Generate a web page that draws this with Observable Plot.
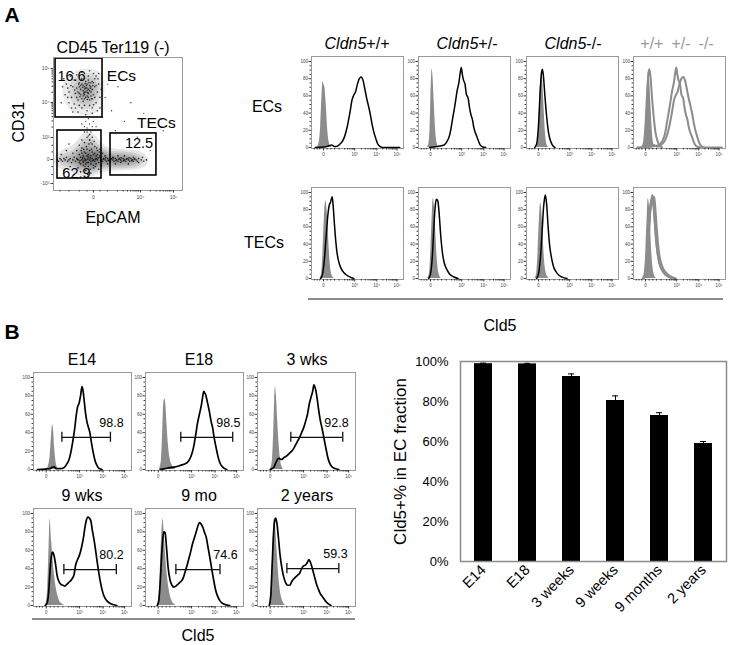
<!DOCTYPE html>
<html><head><meta charset="utf-8">
<script src="https://cdn.jsdelivr.net/npm/d3@7"></script>
<script src="https://cdn.jsdelivr.net/npm/@observablehq/plot@0.6"></script>
<style>
body{margin:0;background:#fff;font-family:"Liberation Sans",Arial,sans-serif;}
#fig{position:relative;width:730px;height:645px;overflow:hidden;background:#fff}
.t{position:absolute;white-space:nowrap;transform:translate(-50%,-50%);line-height:1;color:#000}
.p{position:absolute}
.p svg{display:block;max-width:none !important}
.hr{position:absolute;background:#8c8c8c;height:2px}
</style></head><body><div id="fig"></div>
<script>
// ---------- DATA ----------
// Flow-cytometry axis (display units 0-100 across the frame)
const histXTicks = [13, 47, 71, 93];
const histXLabels = ["0", "10³", "10⁴", "10⁵"];
const histXMinor = [3, 6, 9, 17, 21, 25, 30, 36, 39, 41, 43, 44.5, 45.5, 54.2, 58.4, 61.4, 63.8, 65.7, 67.3, 68.7, 69.9, 77.6, 81.5, 84.2, 86.4, 88.1, 89.6, 90.9, 92];
const histYTicks = [0, 20, 40, 60, 80, 100];
const histYMinor = [5, 10, 15, 25, 30, 35, 45, 50, 55, 65, 70, 75, 85, 90, 95];

// Dot plot axes
const dotXTicks = [31, 67.4, 93];
const dotXLabels = ["0", "10⁴", "10⁵"];
const dotYTicks = [5.3, 23.3, 39.8, 66.2, 91.7];
const dotYLabels = ["-10³", "0", "10³", "10⁴", "10⁵"];
const dotXMinor = [5, 12, 20, 26, 36, 41.8, 49.5, 54, 57.3, 59.8, 61.7, 63.3, 64.7, 65.9, 75, 79.5, 82.6, 85, 87, 88.6, 90, 91.2];
const dotYMinor = [12, 18, 29, 34, 47.7, 52.3, 55.5, 58, 60, 61.6, 63, 64.2, 65.2, 73.9, 78.4, 81.6, 84, 86, 87.7, 89.1, 90.4];

// Gates on the CD31 / EpCAM plot
const gates = [
  {name: "ECs", pct: "16.6", x1: 1.6, x2: 38, y1: 54.9, y2: 99.2},
  {name: "DN", pct: "62.9", x1: 3.1, x2: 37.2, y1: 9.0, y2: 45.1},
  {name: "TECs", pct: "12.5", x1: 44.2, x2: 79.8, y1: 11.3, y2: 42.9}
];

// Events (EpCAM, CD31) in display units
const ecEvents = [[18,70],[19,74],[20,78],[21,72],[22,80],[23,75],[24,69],[25,82],[26,77],[27,73],[28,79],[29,71],[30,76],[31,81],[22,84],[24,78],[26,71],[28,68],[20,81],[23,67],[25,74],[27,83],[29,78],[31,72],[19,68],[21,76],[23,79],[25,70],[27,76],[29,74],[30,69],[32,78],[18,77],[20,73],[22,69],[24,74],[26,80],[28,75],[30,82],[21,79],[23,71],[25,77],[27,70],[29,81],[24,72],[26,75],[22.5,77.5],[24.5,80.5],[26.5,73.5],[28.5,77],[20.5,70.5],[25.5,79],[27.5,81],[23.5,73],[21.5,83],[19.5,80],[29.5,69],[30.5,79],[26.2,68.4],[24.2,76.3],
  [10,80],[12,74],[13,86],[14,70],[15,78],[16,65],[15,88],[17,62],[12,66],[9,72],[33,66],[34,74],[35,80],[36,70],[33,86],[31,88],[28,90],[22,89],[18,87],[36,62],[34,60],[30,62],[26,60],[22,62],[20,64],[16,83],[32,84],[35,88],[8,84],[11,77],[14,62],[37,76],[28,64],[24,64],[19,59],[30,58],[25,57],[32,70],[17,73],[33,79],[16.5,75.5],[13.5,79],[34.5,84],[11,70],[7,78],[6,66],[15,59],[31,64.5],[27,86],[24,88]];
const trailEvents = [[27,54],[28,50],[26,47],[29,44],[27,41],[28,38],[25,52],[30,48],[26,44],[29,36],[31,52],[24,48],[40,70],[45,60],[50,78],[55,52],[60,66],[48,45],[70,58],[42,80],[33,48],[22,50],[38,55],[65,40],[75,30],[85,45]];
const dnEvents = [[3,23],[4,22],[5,24],[6,23],[7,22],[8,24],[9,23],[10,25],[11,22],[12,23],[13,24],[14,21],[15,23],[16,25],[17,22],[18,24],[19,23],[20,21],[21,25],[22,23],[23,22],[24,24],[25,23],[26,21],[27,25],[28,23],[29,22],[30,24],[31,23],[32,22],[33,24],[34,23],[35,21],[36,25],[37,23],[38,22],[39,24],[40,23],[41,22],[42,24],[43,23],[44,22],[45,24],[46,23],[47,22],[48,24],[49,23],[50,22],[51,24],[52,23],[53,22],[54,24],[55,23],[56,22],[57,24],[58,23],[59,22],[60,24],[61,23],[62,22],[63,24],[64,23],[65,22],[66,24],[68,23],[70,22],[72,23],
  [18.5,23.5],[20.5,22.5],[22.5,24.5],[24.5,22.5],[26.5,23.5],[28.5,24.5],[30.5,22.5],[32.5,23.5],[34.5,24.5],[36.5,22.5],[38.5,23.5],[40.5,24.5],[42.5,22.5],[44.5,23.5],[46.5,24.5],[48.5,22.5],[50.5,23.5],[52.5,24.5],[54.5,22.5],[56.5,23.5],[58.5,24.5],[60.5,22.5],[62.5,23.5],
  [18,30],[20,34],[22,28],[24,36],[26,31],[28,38],[30,29],[32,33],[34,27],[36,31],[19,17],[21,14],[23,19],[25,15],[27,18],[29,13],[31,17],[33,20],[35,16],[37,19],[20,27],[22,32],[24,29],[26,26],[28,30],[30,35],[32,28],[34,30],[36,26],[23,26],[25,28],[27,27],[29,26],[31,27],[33,26],[21,20],[23,21],[25,20],[27,21],[29,20],[31,19],[26,40],[28,42],[24,44],[30,40],[22,38],[15,28],[13,18],[10,30],[8,15],[12,35],[6,27],[16,12],[38,28],[40,26],[42,20],[44,27],[46,25],[48,20],[50,26],[52,21],[55,26],[58,20],[62,25],[66,21],[69,25],[25.5,33],[27.5,35],[29.5,31],[31.5,37],[23.5,31],[21.5,30],[33.5,32],[35.5,29],[24.5,18],[28.5,16],[32.5,18],[26.5,12]];

// Panel A histograms: [Cld5 display value, % of max]
const ecIso_WT = [[6,0],[8,4],[10,25],[11.5,62],[12.5,77],[13.5,73],[14.5,70],[16,50],[17.5,22],[19,7],[21,1],[23,0]];
const ec_WT = [[4,0],[14,0.5],[19,2],[22,3],[25,1],[28,1.5],[31,4],[35,10],[39,25],[42,42],[44,55],[46,61],[48,65],[50,74],[52,80],[54,82],[56,78],[58,68],[60,57],[62,48],[64,38],[66,26],[68,17],[70,10],[72,4],[74,1.5],[77,0],[96,0]];
const ecIso_Het = [[9,0],[11,3],[12.5,20],[13.5,60],[14.8,91],[15.8,82],[17,55],[18.5,22],[20,6],[22,0]];
const ec_Het = [[12,0],[20,1],[25,2],[28,3],[31,7],[34,15],[37,33],[40,52],[42,66],[44,76],[45.5,88],[46.5,93],[47.5,86],[49,78],[50.5,74],[52,62],[54,57],[55.5,46],[57,38],[58.5,33],[60,24],[61.5,18],[63,14],[65,8],[67,3],[70,0.5],[73,0]];
const ecIso_KO = [[11,0],[12.5,8],[14,40],[15.5,80],[16.5,88],[17.5,80],[19,48],[20.5,18],[22,4],[24,0]];
const ec_KO = [[9,0],[11,4],[13,25],[15,68],[16.5,88],[17.3,91],[18.5,82],[20,60],[22,35],[24,17],[26,8],[28,3],[31,0]];
const tecIso_WT = [[9,0],[11,5],[12.5,30],[14,70],[15.5,90],[16.5,85],[18,60],[19.5,30],[21,10],[23,2],[25,0]];
const tec_WT = [[10,0],[12,5],[14,22],[16,50],[18,76],[19.5,86],[20.5,88],[21.5,92],[22.5,95],[23.5,85],[25,62],[26.5,42],[28,28],[30,18],[32,12],[35,7],[38,4],[42,1.5],[46,0]];
const tecIso_Het = [[10,0],[12,6],[13.5,35],[15,75],[16,93],[17,88],[18.5,60],[20,28],[21.5,10],[23,3],[25,0]];
const tec_Het = [[11,0],[13,5],[15,25],[16.5,55],[18,82],[19.5,92],[21,90],[22.5,75],[24,52],[26,30],[28,18],[31,10],[34,5],[38,2],[43,0]];
const tecIso_KO = [[9,0],[11,5],[12.5,30],[14,68],[15.3,88],[16.5,80],[18,52],[19.5,22],[21,8],[23,2],[25,0]];
const tec_KO = [[11,0],[13,5],[15,22],[17,55],[18.5,82],[19.5,92],[20.6,97],[22,85],[23.5,60],[25,40],[27,25],[29,15],[32,8],[35,4],[39,1.5],[44,0]];

// Panel B histograms by age
const ages = ["E14", "E18", "3 wks", "9 wks", "9 mo", "2 years"];
const gatePct = ["98.8", "98.5", "92.8", "80.2", "74.6", "59.3"];
const gateFrom = [29, 36, 34, 31, 31, 30];
const gateTo = [78.5, 89, 87, 84.5, 76, 83];
const gateLevel = [35, 35, 35, 39, 39, 40];
const isoE14 = [[13,0],[15,3],[17,15],[18.5,38],[19.5,48.5],[20.5,42],[21.5,25],[23,8],[24.5,2],[26,0]];
const cldE14 = [[4,0],[12,0.5],[17,1],[19,2.5],[21,3],[23,1],[27,1],[31,2],[34,6],[36,10],[38,18],[40,30],[42,44],[43.5,58],[45,68],[46.5,72],[48,80],[49.5,90],[50.5,86],[52,72],[53,62],[54.5,52],[56,46],[57.5,40],[59,30],[61,18],[63,9],[65,4],[67,1],[70,0]];
const isoE18 = [[14,0],[16,8],[17.5,40],[18.5,70],[19.6,77],[20.8,70],[22,48],[23.5,25],[25,12],[27,5],[29,2],[31,0]];
const cldE18 = [[15,0],[20,1],[25,2],[29,2.5],[33,3.5],[37,5],[40,6],[43,8],[45,11],[47,16],[49,24],[51,36],[53,50],[55,60],[57,70],[58.5,80],[59.5,85],[60.5,83],[61.5,81],[63,74],[65,64],[67,52],[68.6,45],[70,35],[72,24],[74,14],[76,7],[78,3.5],[80,1.5],[83,0]];
const iso3w = [[13,0],[15,8],[16.5,40],[17.5,75],[18.3,90],[19.3,80],[20.5,55],[22,28],[23.5,10],[25,3],[27,0]];
const cld3w = [[13,0],[15,1],[17,3],[19,8],[20.5,11],[22,12.5],[23.5,11],[25,11],[27,13],[29,14],[31,16],[33,18],[35,20],[37,23],[39,27],[41,31],[43,35],[45,40],[47,45],[49,52],[51,60],[53,72],[55,80],[56.5,86],[57.5,92],[58.5,90],[59.5,86],[61,76],[62.5,64],[64,54],[66,44],[68,33],[70,22],[72,12],[74,6],[76,3],[79,1],[83,0]];
const iso9w = [[12,0],[14,10],[15.5,50],[17,94],[18.5,70],[20,48],[21.5,32],[23,20],[25,10],[27,4],[30,1],[32,0]];
const cld9w = [[12,0],[14,3],[15.5,15],[17,40],[18.5,55],[19.6,58],[21,54],[22.5,45],[24,33],[26,26],[28,23],[30,22],[32,21],[34,23],[36,25],[38,27],[40,30],[41.5,34],[43,44],[45,50],[47,55],[49,63],[51,74],[52.5,85],[54,93],[55.5,96],[57,95],[58.5,92],[60,82],[62,70],[64,55],[66,40],[68,27],[70,17],[72,10],[75,5],[78,2.5],[81,1],[85,0]];
const iso9m = [[12,0],[14,10],[15.5,50],[17,85],[18,94],[19,80],[20.5,55],[22,35],[24,18],[26,8],[28,3],[31,0]];
const cld9m = [[12,0],[13.5,5],[15,25],[16.5,55],[18,76],[18.8,80],[20,79],[21.5,62],[23,42],[25,28],[27,22],[29,20],[31,21],[33,23],[35,25],[37,27],[38.5,30],[40,35],[42,42],[44,50],[46,58],[48,67],[50,74],[52,81],[54,88],[55.5,90],[57,88],[58.5,85],[60,80],[62,74],[64,62],[66,50],[68,37],[70,25],[72,15],[74,9],[76,5],[79,2],[83,0.5],[86,0]];
const iso2y = [[12,0],[14,15],[15.5,55],[16.8,90],[17.6,95],[18.6,85],[20,60],[21.5,35],[23,18],[25,7],[27,2],[29,0]];
const cld2y = [[12,0],[13.5,10],[15,45],[16.5,80],[17.5,92],[18.6,95],[20,88],[21.5,72],[23,55],[25,40],[27,30],[29,24],[31,22],[33,22],[35,26],[37,29],[39,31],[41,33],[43,35],[45,40],[47,43],[49,44],[51,47],[52.5,50],[54,47],[55.5,42],[57,36],[58.5,30],[60,24],[62,18],[64,13],[66,10],[68,7],[70,4],[72,2],[75,0]];

// Bar chart
const stages = ["E14", "E18", "3 weeks", "9 weeks", "9 months", "2 years"];
const cld5Pct = [98.9, 98.8, 92.5, 80.5, 73.0, 59.0];
const cld5Err = [0.3, 0.3, 1.3, 2.3, 1.4, 1.0];
const barTicks = [0, 20, 40, 60, 80, 100];

// ---------- DRAWING ----------
const FONT = '"Liberation Sans", Arial, sans-serif';
const fig = document.getElementById("fig");
function put(node, left, top) {
  const d = document.createElement("div");
  d.className = "p"; d.style.left = left + "px"; d.style.top = top + "px";
  d.appendChild(node); fig.appendChild(d);
}
function lab(html, x, y, size, extra = "") {
  const d = document.createElement("div");
  d.className = "t"; d.innerHTML = html;
  d.style.cssText += `left:${x}px;top:${y}px;font-size:${size}px;${extra}`;
  fig.appendChild(d);
}
const px = d => d[0], py = d => d[1];

function histAxes() {
  return [
    Plot.axisY({ticks: histYMinor, tickSize: 1.5, tickFormat: () => "", label: null, stroke: "#333"}),
    Plot.axisY({ticks: histYTicks, tickSize: 2.5, tickPadding: 1, fontSize: 4.5, label: null, stroke: "#333", color: "#444"}),
    Plot.axisX({ticks: histXMinor, tickSize: 1.5, tickFormat: () => "", label: null, stroke: "#333"}),
    Plot.axisX({ticks: histXTicks, tickFormat: d => histXLabels[histXTicks.indexOf(d)], tickSize: 2.5, tickPadding: 1.5, fontSize: 4.5, label: null, stroke: "#333", color: "#444"})
  ];
}

function hist({fx, fy, w, h, yDom, fills = [], lines = [], lineColor = "#000", lineWidth = 1.5, gate = null}) {
  const ML = 16, MR = 1, MT = 1, MB = 12;
  const marks = [];
  fills.forEach(f => marks.push(Plot.areaY(f, {x: px, y: py, fill: "#8c8c8c", curve: "monotone-x"})));
  lines.forEach(l => marks.push(Plot.lineY(l, {x: px, y: py, stroke: lineColor, strokeWidth: lineWidth, curve: "monotone-x"})));
  if (gate) {
    marks.push(Plot.ruleY([gate.y], {x1: () => gate.x1, x2: () => gate.x2, stroke: "#111", strokeWidth: 1.3}));
    marks.push(Plot.ruleX([gate.x1, gate.x2], {y1: () => gate.y - 5.5, y2: () => gate.y + 5.5, stroke: "#111", strokeWidth: 1.3}));
    marks.push(Plot.text([gate.label], {x: () => gate.lx, y: () => gate.y + 16, textAnchor: "end", fontSize: 12.5, fill: "#000"}));
  }
  marks.push(Plot.frame({stroke: "#9a9a9a", strokeWidth: 1}));
  marks.push(...histAxes());
  const svg = Plot.plot({
    width: w + ML + MR, height: h + MT + MB,
    marginLeft: ML, marginRight: MR, marginTop: MT, marginBottom: MB,
    x: {domain: [0, 100]}, y: {domain: yDom},
    style: {fontFamily: FONT, background: "transparent", overflow: "visible"},
    marks
  });
  put(svg, fx - ML, fy - MT);
}

// ----- Panel A: dot plot -----
{
  const ML = 20, MR = 2, MT = 2, MB = 14, W = 129, H = 133;
  const svg = Plot.plot({
    width: W + ML + MR, height: H + MT + MB,
    marginLeft: ML, marginRight: MR, marginTop: MT, marginBottom: MB,
    x: {domain: [0, 100]}, y: {domain: [0, 100]},
    style: {fontFamily: FONT, background: "transparent", overflow: "visible"},
    marks: [
      Plot.density(ecEvents, {x: px, y: py, bandwidth: 5, thresholds: 6, fill: "#000", fillOpacity: 0.08, stroke: null}),
      Plot.density(dnEvents, {x: px, y: py, bandwidth: 3, thresholds: 8, fill: "#000", fillOpacity: 0.1, stroke: null}),
      Plot.dot(ecEvents, {x: px, y: py, r: 0.8, fill: "#111", fillOpacity: 0.85, stroke: null}),
      Plot.dot(trailEvents, {x: px, y: py, r: 0.7, fill: "#111", fillOpacity: 0.8, stroke: null}),
      Plot.dot(dnEvents, {x: px, y: py, r: 0.8, fill: "#000", fillOpacity: 0.85, stroke: null}),
      Plot.rect(gates, {x1: "x1", x2: "x2", y1: "y1", y2: "y2", fill: "none", stroke: "#000", strokeWidth: 1.6}),
      Plot.text(gates, {x: d => ({ECs: 14, DN: 17.8, TECs: 66.3})[d.name], y: d => ({ECs: 85.7, DN: 12.8, TECs: 35.3})[d.name], text: "pct", fontSize: 14.5, fill: "#000"}),
      Plot.text(gates.filter(d => d.name !== "DN"), {x: d => ({ECs: 52.7, TECs: 79.8})[d.name], y: d => ({ECs: 85.7, TECs: 50.4})[d.name], text: "name", fontSize: 15.5, fill: "#000"}),
      Plot.frame({stroke: "#9a9a9a", strokeWidth: 1}),
      Plot.axisY({ticks: dotYMinor, tickSize: 1.5, tickFormat: () => "", label: null, stroke: "#333"}),
      Plot.axisY({ticks: dotYTicks, tickFormat: d => dotYLabels[dotYTicks.indexOf(d)], tickSize: 2.5, tickPadding: 1.5, fontSize: 5, label: null, stroke: "#333", color: "#444"}),
      Plot.axisX({ticks: dotXMinor, tickSize: 1.5, tickFormat: () => "", label: null, stroke: "#333"}),
      Plot.axisX({ticks: dotXTicks, tickFormat: d => dotXLabels[dotXTicks.indexOf(d)], tickSize: 2.5, tickPadding: 2, fontSize: 5, label: null, stroke: "#333", color: "#444"})
    ]
  });
  put(svg, 53 - ML, 57 - MT);
}

// ----- Panel A: histograms -----
const aX = [311, 418, 526, 633], aW = 92, aH = 92, aDom = [-1.2, 105.8];
hist({fx: aX[0], fy: 56, w: aW, h: aH, yDom: aDom, fills: [ecIso_WT], lines: [ec_WT]});
hist({fx: aX[1], fy: 56, w: aW, h: aH, yDom: aDom, fills: [ecIso_Het], lines: [ec_Het]});
hist({fx: aX[2], fy: 56, w: aW, h: aH, yDom: aDom, fills: [ecIso_KO], lines: [ec_KO]});
hist({fx: aX[3], fy: 56, w: aW, h: aH, yDom: aDom, fills: [ecIso_KO], lines: [ec_KO, ec_Het, ec_WT], lineColor: "#8c8c8c", lineWidth: 2});
hist({fx: aX[0], fy: 187, w: aW, h: aH, yDom: aDom, fills: [tecIso_WT], lines: [tec_WT]});
hist({fx: aX[1], fy: 187, w: aW, h: aH, yDom: aDom, fills: [tecIso_Het], lines: [tec_Het]});
hist({fx: aX[2], fy: 187, w: aW, h: aH, yDom: aDom, fills: [tecIso_KO], lines: [tec_KO]});
hist({fx: aX[3], fy: 187, w: aW, h: aH, yDom: aDom, fills: [tecIso_Het], lines: [tec_WT, tec_Het, tec_KO], lineColor: "#8c8c8c", lineWidth: 2});

// ----- Panel B: histograms -----
const bX = [33, 145, 257], bY = [372, 508], bW = 98, bH = 98, bDom = [-1.1, 105.4];
const bIso = [isoE14, isoE18, iso3w, iso9w, iso9m, iso2y];
const bCld = [cldE14, cldE18, cld3w, cld9w, cld9m, cld2y];
const bLabelX = [92, 97, 93, 92, 94, 92];
ages.forEach((a, i) => {
  hist({fx: bX[i % 3], fy: bY[Math.floor(i / 3)], w: bW, h: bH, yDom: bDom, fills: [bIso[i]], lines: [bCld[i]], lineWidth: 1.7,
    gate: {x1: gateFrom[i], x2: gateTo[i], y: gateLevel[i], label: gatePct[i], lx: bLabelX[i]}});
});

// ----- Panel B: bar chart -----
{
  const table = stages.map((s, i) => ({stage: s, pct: cld5Pct[i], err: cld5Err[i]}));
  const svg = Plot.plot({
    width: 349, height: 285, marginLeft: 80, marginRight: 3, marginTop: 10, marginBottom: 75,
    x: {domain: stages, paddingInner: 0.59, paddingOuter: 0.295},
    y: {domain: [0, 100]},
    style: {fontFamily: FONT, background: "transparent", overflow: "visible"},
    marks: [
      Plot.barY(table, {x: "stage", y: "pct", fill: "#000"}),
      Plot.ruleX(table, {x: "stage", y1: "pct", y2: d => d.pct + d.err, stroke: "#000", strokeWidth: 1}),
      Plot.tickY(table, {x: "stage", y: d => d.pct + d.err, inset: 6, stroke: "#000", strokeWidth: 1}),
      Plot.frame({stroke: "#8c8c8c", strokeWidth: 1.5}),
      Plot.axisY({ticks: barTicks, tickFormat: d => d + "%", tickSize: 0, tickPadding: 12, fontSize: 13, label: null, color: "#000"}),
      Plot.axisX({tickRotate: -45, tickSize: 0, tickPadding: 6, fontSize: 14.5, label: null, color: "#000"}),
      Plot.text(["Cld5+% in EC fraction"], {frameAnchor: "left", dx: -60, rotate: -90, textAnchor: "middle", lineAnchor: "middle", fontSize: 17, fill: "#000"})
    ]
  });
  put(svg, 380, 351);
}

// ----- Text labels -----
lab("A", 12, 14, 21, "font-weight:bold");
lab("B", 12, 331, 21, "font-weight:bold");
lab("CD45 Ter119 (-)", 113, 48, 16);
lab("CD31", 19, 122, 16, "transform:translate(-50%,-50%) rotate(-90deg)");
lab("EpCAM", 113, 218, 16);
lab("<i>Cldn5</i>+/+", 357, 44, 16);
lab("<i>Cldn5</i>+/-", 467, 44, 16);
lab("<i>Cldn5</i>-/-", 573, 44, 16);
lab("+/+&ensp;+/-&ensp;-/-", 677, 44, 16, "color:#999");
lab("ECs", 267, 107, 16);
lab("TECs", 264, 243, 16);
const ahr = document.createElement("div"); ahr.className = "hr";
ahr.style.cssText += "left:308px;top:298px;width:415px"; fig.appendChild(ahr);
lab("Cld5", 500, 326, 16);
const titleX = [82, 199, 307], titleY = [360, 496];
ages.forEach((a, i) => lab(a, titleX[i % 3], titleY[Math.floor(i / 3)], 16));
const bhr = document.createElement("div"); bhr.className = "hr";
bhr.style.cssText += "left:32px;top:618px;width:323px"; fig.appendChild(bhr);
lab("Cld5", 198, 636, 16);
</script></body></html>
